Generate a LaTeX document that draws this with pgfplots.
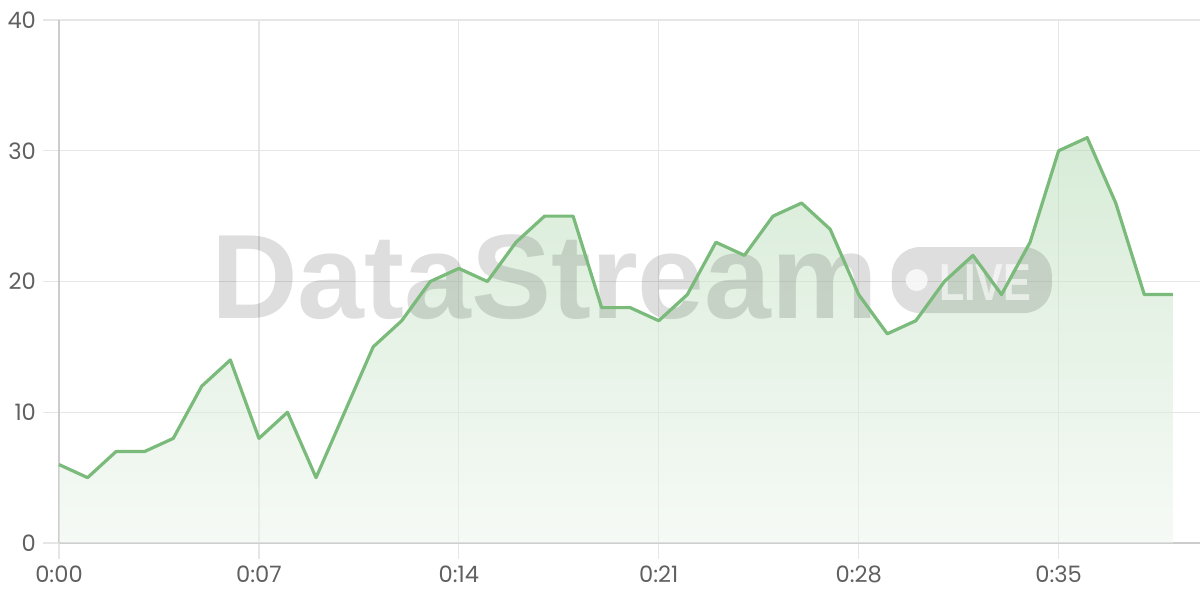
\documentclass[border=0pt]{standalone}
\usepackage{fontspec}
\setmainfont{Poppins}
\newfontfamily\wmfont{Liberation Sans}
\usepackage{graphicx}
\usepackage{pgfplots}
\usepackage{pgfplotstable}
\pgfplotsset{compat=1.18}
\definecolor{linegreen}{RGB}{122,186,122}
\definecolor{filltop}{RGB}{177,217,177}
\definecolor{fillbot}{RGB}{237,245,237}
\definecolor{gridc}{RGB}{230,230,230}
\definecolor{axisc}{RGB}{204,204,204}
\definecolor{labc}{RGB}{96,96,96}
\pgfplotstableread{
x y
0 6
1 5
2 7
3 7
4 8
5 12
6 14
7 8
8 10
9 5
10 10
11 15
12 17
13 20
14 21
15 20
16 23
17 25
18 25
19 18
20 18
21 17
22 19
23 23
24 22
25 25
26 26
27 24
28 19
29 16
30 17
31 20
32 22
33 19
34 23
35 30
36 31
37 26
38 19
39 19
}\datatable
\begin{document}
\begin{tikzpicture}
\useasboundingbox (-29.5pt,-28.5pt) rectangle (570.5pt,271.5pt);
\begin{axis}[
  at={(0,0)}, anchor=south west,
  scale only axis, width=570.5pt, height=261.5pt,
  xmin=0, xmax=39.95, ymin=0, ymax=40,
  xtick={0,7,14,21,28,35},
  xticklabels={0:00,0:07,0:14,0:21,0:28,0:35},
  ytick={0,10,20,30,40},
  axis lines=left,
  axis line style={-, draw=axisc, line width=0.8pt},
  grid=major,
  major grid style={draw=gridc, line width=0.6pt},
  tick align=outside,
  major tick length=8pt,
  tick style={draw=gridc, line width=0.6pt},
  ticklabel style={font=\fontsize{11.3}{13}\selectfont, text=labc},
  /pgf/number format/assume math mode=true,
  clip=false,
]
\addplot[draw=none, top color=filltop, bottom color=fillbot, fill opacity=0.5] table[x=x,y=y] {\datatable} \closedcycle;
\node[font=\wmfont\bfseries\fontsize{60}{60}\selectfont, text=black, opacity=0.13, anchor=base] at (axis cs:17,17.2) {DataStream};
\node[fill=black, fill opacity=0.13, rounded corners=14pt, minimum width=80pt, minimum height=33pt, inner sep=0pt] at (axis cs:31.96,20.11) {};
\fill[white, opacity=0.75] (axis cs:30.03,20.11) circle[radius=5.5pt];
\node[font=\wmfont\bfseries\fontsize{26}{26}\selectfont, text=white, text opacity=0.6, inner sep=0pt] at (axis cs:32.43,19.92) {\scalebox{0.8}[1]{LIVE}};
\addplot[color=linegreen, line width=1.6pt, line join=round, mark=none] table[x=x,y=y] {\datatable};
\end{axis}
\end{tikzpicture}
\end{document}
